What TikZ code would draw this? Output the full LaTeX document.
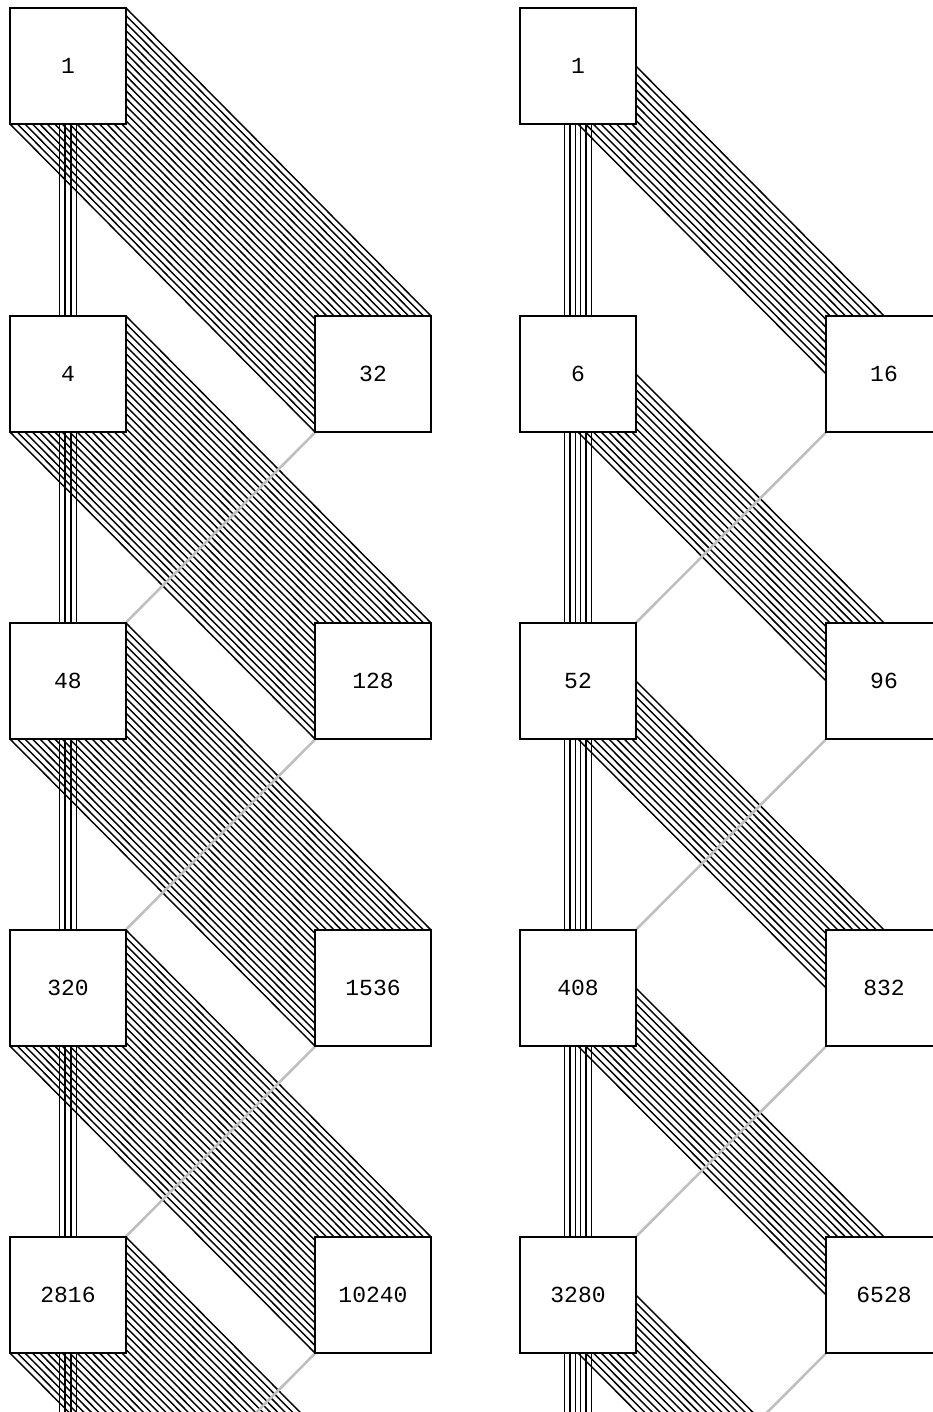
\documentclass[tikz,border=0pt]{standalone}
\usepackage{fontspec}
\setmonofont{Liberation Mono}
\usetikzlibrary{calc,backgrounds}
\begin{document}
\begin{tikzpicture}[x=1pt,y=-1pt,
  box/.style={draw=black, fill=white, line width=1.4pt, minimum size=116pt, inner sep=0pt,
    font=\ttfamily\fontsize{23}{23}\selectfont},
  strand/.style={black, line width=1.45pt},
  greyline/.style={gray!50, line width=2.6pt}]
\useasboundingbox (0,0) rectangle (933,1412);
\clip (0,0) rectangle (933,1412);
% ---------- left diagram ----------
\node[box] (a1) at (68,66)   {1};
\node[box] (a2) at (68,374)  {4};
\node[box] (a3) at (68,681)  {48};
\node[box] (a4) at (68,988)  {320};
\node[box] (a5) at (68,1295) {2816};
\coordinate (a6) at (68,1602);
\node[box] (b2) at (373,374)  {32};
\node[box] (b3) at (373,681)  {128};
\node[box] (b4) at (373,988)  {1536};
\node[box] (b5) at (373,1295) {10240};
\coordinate (b6) at (373,1602);
% ---------- right diagram ----------
\node[box] (c1) at (578,66)   {1};
\node[box] (c2) at (578,374)  {6};
\node[box] (c3) at (578,681)  {52};
\node[box] (c4) at (578,988)  {408};
\node[box] (c5) at (578,1295) {3280};
\coordinate (c6) at (578,1602);
\node[box] (d2) at (884,374)  {16};
\node[box] (d3) at (884,681)  {96};
\node[box] (d4) at (884,988)  {832};
\node[box] (d5) at (884,1295) {6528};
\coordinate (d6) at (884,1602);
\begin{pgfonlayer}{background}
\clip (0,0) rectangle (933,1412);
\foreach \k [evaluate=\k as \n using int(\k+1)] in {1,...,5} {
  % vertical bundles
  \foreach \i in {-1.5,-0.5,0.5,1.5}
    \draw[strand] ($(a\k)+(\i*5.6,0)$) -- ($(a\n)+(\i*5.6,0)$);
  \foreach \i in {-2.5,-1.5,-0.5,0.5,1.5,2.5}
    \draw[strand] ($(c\k)+(\i*5.4,0)$) -- ($(c\n)+(\i*5.4,0)$);
  % diagonal bands
  \foreach \j in {0,...,31} {
    \pgfmathsetmacro\t{-58+\j*116/31}
    \draw[strand] ($(a\k)+(\t,-\t)$) -- ($(b\n)+(\t,-\t)$);
  }
  \foreach \j in {0,...,15} {
    \pgfmathsetmacro\t{-29+\j*58/15}
    \draw[strand] ($(c\k)+(\t,-\t)$) -- ($(d\n)+(\t,-\t)$);
  }
}
\foreach \k [evaluate=\k as \n using int(\k+1)] in {2,...,5} {
  \draw[greyline] (b\k) -- (a\n);
  \draw[greyline] (d\k) -- (c\n);
}
\end{pgfonlayer}
\end{tikzpicture}
\end{document}
